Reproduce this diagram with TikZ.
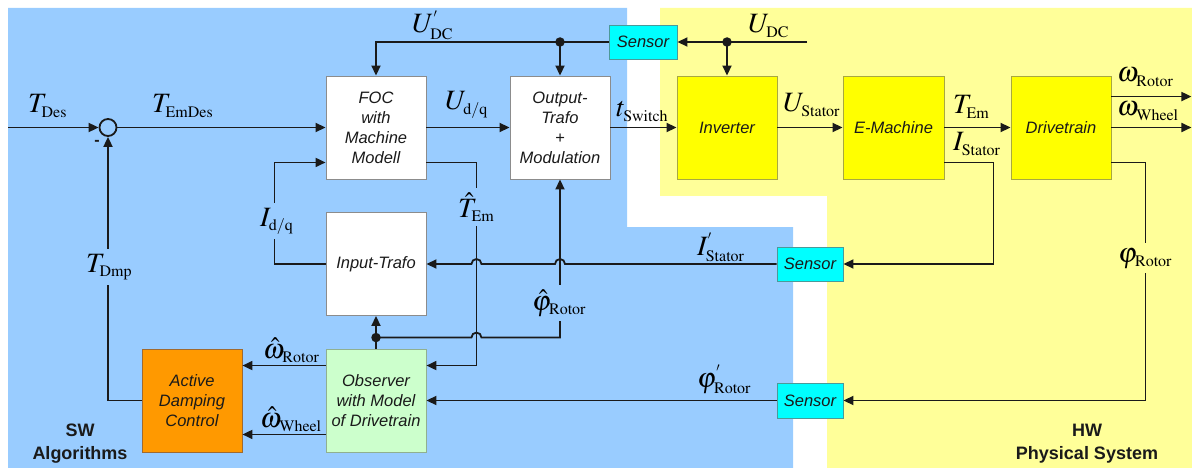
\documentclass[tikz,border=0pt]{standalone}
\usepackage{mathptmx}
\usepackage[no-math]{fontspec}
\setmainfont{Liberation Sans}
\usetikzlibrary{arrows.meta,calc}
\DeclareMathSizes{28}{28}{16}{12}
\definecolor{swblue}{HTML}{99CCFF}
\definecolor{hwyellow}{HTML}{FFFF99}
\definecolor{boxgray}{HTML}{8C8C8C}
\definecolor{yelbox}{HTML}{FFFF00}
\definecolor{yelborder}{HTML}{A8A840}
\definecolor{cyanbox}{HTML}{00FFFF}
\definecolor{cyanborder}{HTML}{4A9A9A}
\definecolor{orangebox}{HTML}{FF9900}
\definecolor{orangeborder}{HTML}{A06A30}
\definecolor{greenbox}{HTML}{CCFFCC}
\definecolor{greenborder}{HTML}{90B090}
\definecolor{linecol}{HTML}{1A1A1A}
\newcommand\sig[1]{{\fontsize{28}{28}\selectfont$#1$}}
\tikzset{
  blk/.style={line width=0.9pt, minimum width=100pt, minimum height=103pt, inner sep=0pt,
    align=center, font=\fontsize{16.5}{20}\selectfont\itshape, text=linecol},
  whiteblk/.style={blk, draw=boxgray, fill=white},
  yelblk/.style={blk, draw=yelborder, fill=yelbox},
  sensorblk/.style={blk, draw=cyanborder, fill=cyanbox, minimum width=66pt, minimum height=34pt},
  orangeblk/.style={blk, draw=orangeborder, fill=orangebox},
  greenblk/.style={blk, draw=greenborder, fill=greenbox},
  lbl/.style={inner sep=0pt, anchor=base west},
  lblb/.style={lbl, fill=swblue, inner ysep=5pt},
  lbly/.style={lbl, fill=hwyellow, inner ysep=5pt},
  conn/.style={line width=1.8pt, draw=linecol, -{Triangle[length=10pt,width=9pt]}},
  dotpt/.style={circle, fill=linecol, inner sep=0pt, minimum size=9.5pt},
  regionlabel/.style={font=\fontsize{18}{23}\selectfont\bfseries, align=center, text=linecol}
}
\begin{document}
\begin{tikzpicture}[x=1pt,y=-1pt]
\useasboundingbox (0,0) rectangle (1192,468);
% regions
\fill[swblue] (8,8) -- (627,8) -- (627,227) -- (793,227) -- (793,468) -- (8,468) -- cycle;
\fill[hwyellow] (660,8) -- (1192,8) -- (1192,468) -- (827,468) -- (827,196) -- (660,196) -- cycle;

% blocks
\node[whiteblk] (foc) at (376,127.5) {FOC\\with\\Machine\\Modell};
\node[whiteblk] (otrafo) at (560,127.5) {Output-\\Trafo\\+\\Modulation};
\node[yelblk] (inverter) at (727,127.5) {Inverter};
\node[yelblk, minimum width=101pt] (emach) at (893.5,127.5) {E-Machine};
\node[yelblk] (drive) at (1061,127.5) {Drivetrain};
\node[sensorblk, minimum width=68pt] (sens1) at (643,42) {Sensor};
\node[whiteblk] (itrafo) at (376,264) {Input-Trafo};
\node[greenblk] (obs) at (376,400.5) {Observer\\with Model\\of Drivetrain};
\node[orangeblk] (adc) at (192,400.5) {Active\\Damping\\Control};
\node[sensorblk] (sens2) at (810,264) {Sensor};
\node[sensorblk, minimum height=35pt] (sens3) at (810,400.5) {Sensor};
\node[circle, draw=linecol, line width=1.8pt, minimum size=17pt, inner sep=0pt] (sum) at (108,127.5) {};
\node[font=\fontsize{16}{16}\selectfont\bfseries, text=linecol] (minus) at (97,143) {-};

% helper coordinates
\coordinate (tin) at (8,127.5);
\coordinate (udc) at (807,42);
\coordinate (tcol) at ([xshift=50pt]foc.east);
\coordinate (pd) at ([yshift=11pt]obs.north);

% connectors
\draw[conn] (tin) -- (sum.west);
\draw[conn] (sum.east) -- (foc.west);
\draw[conn] (adc.west) -| (sum.south);
\draw[conn] (itrafo.west) -- ++(-51,0) |- ([yshift=17pt]foc.south west);
\draw[conn] (foc.east) -- (otrafo.west);
\draw[conn] ([yshift=17pt]foc.south east) -- ++(50,0) |- ([yshift=-17pt]obs.north east);
\draw[conn] (sens1.west) -| (foc.north);
\node[dotpt] (d1) at (otrafo.north |- sens1.west) {};
\draw[conn] (d1.center) -- (otrafo.north);
\draw[conn] (udc) -- (sens1.east);
\node[dotpt] (d2) at (inverter.north |- sens1.east) {};
\draw[conn] (d2.center) -- (inverter.north);
\draw[conn] (otrafo.east) -- (inverter.west);
\draw[conn] (inverter.east) -- (emach.west);
\draw[conn] (emach.east) -- (drive.west);
\draw[conn] ([yshift=17pt]emach.south east) -- ++(49,0) |- (sens2.east);
\draw[conn] ([yshift=-21pt]drive.north east) -- ++(80,0);
\draw[conn] (drive.east) -- ++(80,0);
\draw[conn] ([yshift=17pt]drive.south east) -- ++(34,0) |- (sens3.east);
\draw[conn] (sens3.west) -- (obs.east);
\draw[conn] (sens2.west) -- ([xshift=5pt]otrafo.south |- sens2.west)
   arc[start angle=0, end angle=-180, radius=5]
   -- ([xshift=5pt]tcol |- sens2.west)
   arc[start angle=0, end angle=-180, radius=5]
   -- (itrafo.east);
\draw[conn] (obs.north) -- (itrafo.south);
\node[dotpt] (d3) at (pd) {};
\draw[conn] (d3.center) -- ([xshift=-5pt]tcol |- pd)
   arc[start angle=180, end angle=360, radius=5]
   -- (otrafo.south |- pd) -- (otrafo.south);
\draw[conn] ([yshift=-17pt]obs.north west) -- ([yshift=-17pt]adc.north east);
\draw[conn] ([yshift=18pt]obs.south west) -- ([yshift=18pt]adc.south east);

% labels
\node[lbl] (lTDes) at (28,113) {\sig{T_{\mathrm{Des}}}};
\node[lbl] (lTEmDes) at (152,113) {\sig{T_{\mathrm{EmDes}}}};
\node[lbl] (lUdq) at (445,110) {\sig{U_{\mathrm{d/q}}}};
\node[lbl] (lUDCp) at (412,33) {\sig{U^{'}_{\mathrm{DC}}}};
\node[lbl] (lUDC) at (748,33) {\sig{U_{\mathrm{DC}}}};
\node[lbl] (ltsw) at (616,117) {\sig{t_{\mathrm{Switch}}}};
\node[lbl] (lUSt) at (783,112) {\sig{U_{\mathrm{Stator}}}};
\node[lbl] (lTEm) at (953,114) {\sig{T_{\mathrm{Em}}}};
\node[lbl] (lISt) at (953,151) {\sig{I_{\mathrm{Stator}}}};
\node[lbl] (lwR) at (1117,82) {\sig{\omega_{\mathrm{Rotor}}}};
\node[lbl] (lwW) at (1117,116) {\sig{\omega_{\mathrm{Wheel}}}};
\node[lblb] (lIdq) at (260,226) {\sig{I_{\mathrm{d/q}}}};
\node[lblb] (lThat) at (458,217) {\sig{\hat{T}_{\mathrm{Em}}}};
\node[lblb] (lTDmp) at (86,272) {\sig{T_{\mathrm{Dmp}}}};
\node[lbl] (lIStp) at (697,255) {\sig{I^{'}_{\mathrm{Stator}}}};
\node[lblb] (lphihat) at (532,310) {\sig{\hat{\varphi}_{\mathrm{Rotor}}}};
\node[lbl] (lphip) at (697,387) {\sig{\varphi^{'}_{\mathrm{Rotor}}}};
\node[lbly] (lphi) at (1118,262) {\sig{\varphi_{\mathrm{Rotor}}}};
\node[lbl] (lwhR) at (263,358) {\sig{\hat{\omega}_{\mathrm{Rotor}}}};
\node[lbl] (lwhW) at (260,427) {\sig{\hat{\omega}_{\mathrm{Wheel}}}};

\node[regionlabel] (sw) at (80,444) {SW\\Algorithms};
\node[regionlabel] (hw) at (1087,444) {HW\\Physical System};
\end{tikzpicture}
\end{document}
